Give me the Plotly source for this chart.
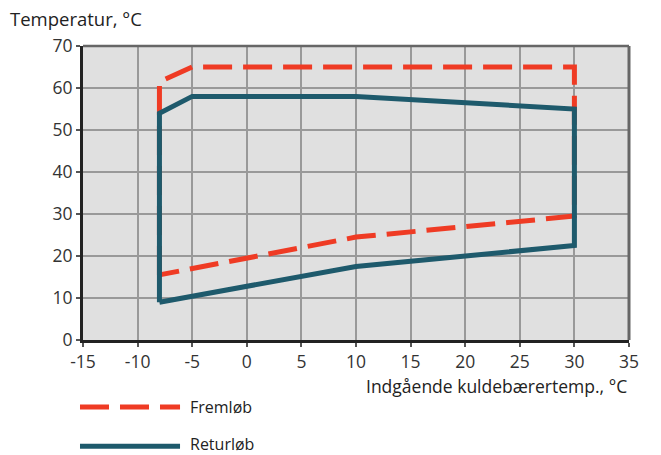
import plotly.graph_objects as go

# Data
fremlob_x = [-8, -8, -5, 30, 30, 10, -8]
fremlob_y = [15.5, 61.5, 65, 65, 29.5, 24.5, 15.5]
returlob_x = [-8, -8, -5, 10, 30, 30, 10, -8]
returlob_y = [9, 54, 58, 58, 55, 22.5, 17.5, 9]
series_names = ["Fremløb", "Returløb"]
x_ticks = list(range(-15, 40, 5))
x_tick_labels = [str(v) for v in x_ticks]
y_ticks = list(range(0, 80, 10))
y_tick_labels = [str(v) for v in y_ticks]

RED = "#ef3b24"
TEAL = "#1e5a6c"
FONT = "Open Sans"
DASH = "29px,11px"

fig = go.Figure()
fig.add_trace(go.Scatter(x=fremlob_x, y=fremlob_y, mode="lines", name=series_names[0],
                         line=dict(color=RED, width=5, dash=DASH), showlegend=False))
fig.add_trace(go.Scatter(x=returlob_x, y=returlob_y, mode="lines", name=series_names[1],
                         line=dict(color=TEAL, width=5), showlegend=False))

axis_common = dict(showgrid=True, gridcolor="#999", gridwidth=1.5,
                   showline=True, linecolor="#222", linewidth=3, ticks="outside", ticklen=4,
                   tickcolor="#555", tickwidth=1.5, zeroline=False, fixedrange=True,
                   tickfont=dict(size=17.5, color="#333"))

fig.update_layout(
    width=661, height=455,
    margin=dict(l=83, r=32, t=46, b=115),
    paper_bgcolor="white", plot_bgcolor="#e0e0e0",
    font=dict(family=FONT, size=16, color="#222"),
    xaxis=dict(range=[-15, 35], tickvals=x_ticks, ticktext=x_tick_labels, **axis_common),
    yaxis=dict(range=[0, 70], tickvals=y_ticks, ticktext=y_tick_labels, **axis_common),
    shapes=[
        dict(type="line", xref="paper", yref="paper", x0=0, x1=1, y0=1, y1=1,
             line=dict(color="#666", width=2.5)),
        dict(type="line", xref="paper", yref="paper", x0=1, x1=1, y0=0, y1=1,
             line=dict(color="#666", width=3)),
        # legend samples
        dict(type="line", xref="paper", yref="paper", x0=-0.0055, x1=0.1777, y0=-0.228, y1=-0.228,
             line=dict(color=RED, width=5, dash=DASH)),
        dict(type="line", xref="paper", yref="paper", x0=-0.0055, x1=0.1777, y0=-0.361, y1=-0.361,
             line=dict(color=TEAL, width=5)),
    ],
    annotations=[
        dict(text="Temperatur, °C", xref="paper", yref="paper", x=0, y=1, xshift=-75, yshift=28,
             xanchor="left", yanchor="middle", showarrow=False, font=dict(size=18.5)),
        dict(text="Indgående kuldebærertemp., °C", xref="paper", yref="paper", x=1, y=0,
             xanchor="right", yanchor="middle", yshift=-46, showarrow=False, font=dict(size=17.5)),
        dict(text=series_names[0], xref="paper", yref="paper", x=0.1923, y=-0.228,
             xanchor="left", yanchor="middle", showarrow=False, font=dict(size=16)),
        dict(text=series_names[1], xref="paper", yref="paper", x=0.1923, y=-0.361, yshift=2,
             xanchor="left", yanchor="middle", showarrow=False, font=dict(size=16)),
    ],
)

fig.write_html("out.html", config={"displayModeBar": False},
               post_script="document.body.style.margin='0';document.body.style.padding='0';")
